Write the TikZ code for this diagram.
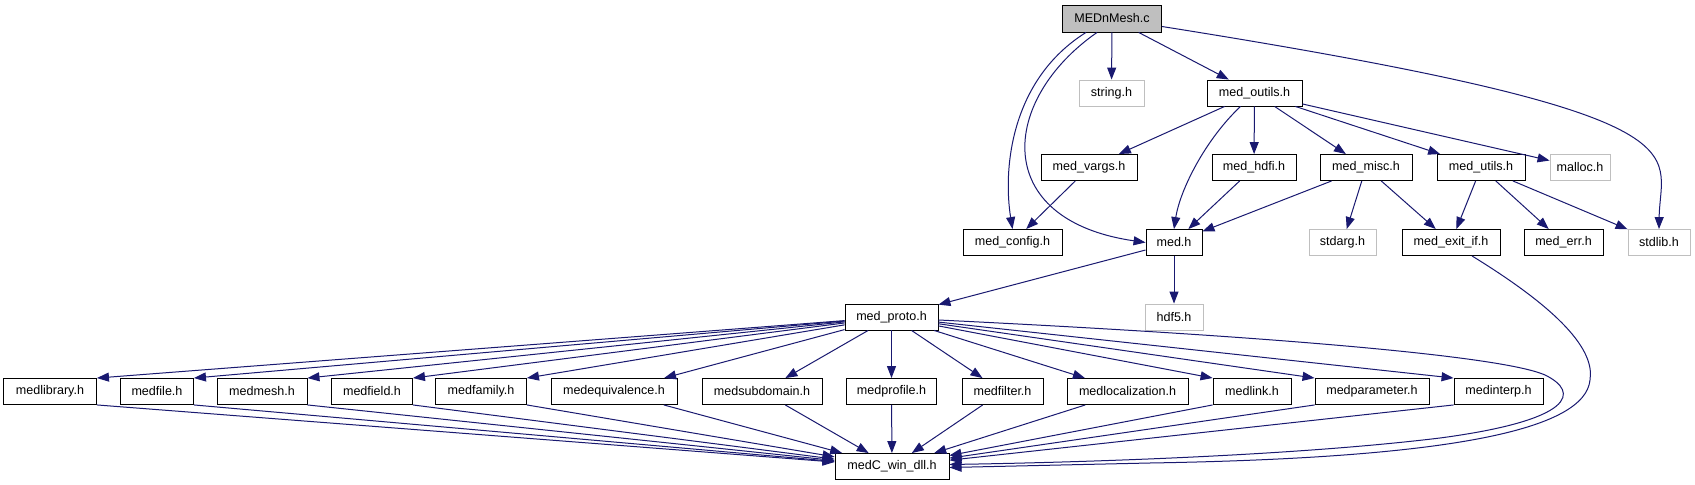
\documentclass[tikz,border=0pt]{standalone}
\usepackage{fontspec}
\setmainfont{Liberation Sans}
\usetikzlibrary{arrows.meta,calc}
\definecolor{edgec}{HTML}{191970}
\definecolor{greyc}{HTML}{BFBFBF}
\tikzset{
  box/.style={draw=black, line width=0.9bp, minimum height=26bp, inner sep=0pt, font=\fontsize{12.6}{15}\selectfont, fill=white},
  sysbox/.style={box, draw=greyc},
  rootbox/.style={box, fill=greyc},
  edge/.style={draw=edgec, line width=1bp, -{Triangle[length=12bp,width=9bp]}}
}
\begin{document}
\begin{tikzpicture}[x=1bp, y=-1bp]
\path[fill=white, use as bounding box] (0,0) rectangle (1695,485);
% rank 0
\node[rootbox, minimum width=99bp, minimum height=27bp] (mesh) at (1112,18.5) {MEDnMesh.c};
% rank 1
\node[sysbox, minimum width=65bp] (string) at (1111.5,93) {string.h};
\node[box, minimum width=95bp] (outils) at (1254.5,93) {med\_outils.h};
% rank 2
\node[box, minimum width=96bp] (vargs) at (1089,167.5) {med\_vargs.h};
\node[box, minimum width=84bp] (hdfi) at (1254,167.5) {med\_hdfi.h};
\node[box, minimum width=92bp] (misc) at (1366,167.5) {med\_misc.h};
\node[box, minimum width=88bp] (utils) at (1481,167.5) {med\_utils.h};
\node[sysbox, minimum width=60bp] (malloc) at (1580,167.5) {malloc.h};
% rank 3
\node[box, minimum width=99bp] (config) at (1012.5,242.5) {med\_config.h};
\node[box, minimum width=56bp] (med) at (1174,242.5) {med.h};
\node[sysbox, minimum width=67bp] (stdarg) at (1342.5,242.5) {stdarg.h};
\node[box, minimum width=98bp] (exitif) at (1451,242.5) {med\_exit\_if.h};
\node[box, minimum width=79bp] (err) at (1563.5,242.5) {med\_err.h};
\node[sysbox, minimum width=62bp] (stdlib) at (1659,242.5) {stdlib.h};
% rank 4
\node[box, minimum width=93bp] (proto) at (891.5,317) {med\_proto.h};
\node[sysbox, minimum width=58bp] (hdf5) at (1174,317) {hdf5.h};
% rank 5
\node[box, minimum width=93bp] (library) at (50,391.5) {medlibrary.h};
\node[box, minimum width=73bp] (file) at (157,391.5) {medfile.h};
\node[box, minimum width=90bp] (mmesh) at (262,391.5) {medmesh.h};
\node[box, minimum width=81bp] (field) at (372,391.5) {medfield.h};
\node[box, minimum width=91bp] (family) at (481,391.5) {medfamily.h};
\node[box, minimum width=126bp] (equiv) at (614,391.5) {medequivalence.h};
\node[box, minimum width=120bp] (subdomain) at (762,391.5) {medsubdomain.h};
\node[box, minimum width=90bp] (profile) at (891.5,391.5) {medprofile.h};
\node[box, minimum width=81bp] (filter) at (1002.5,391.5) {medfilter.h};
\node[box, minimum width=121bp] (localization) at (1127.5,391.5) {medlocalization.h};
\node[box, minimum width=78bp] (link) at (1252,391.5) {medlink.h};
\node[box, minimum width=114bp] (parameter) at (1372,391.5) {medparameter.h};
\node[box, minimum width=89bp] (interp) at (1498.5,391.5) {medinterp.h};
% rank 6
\node[box, minimum width=114bp] (dll) at (892,466.5) {medC\_win\_dll.h};

% edges from MEDnMesh.c
\draw[edge] ([xshift=-26bp]mesh.south) .. controls (1010,80) and (1003,170) .. (config.north);
\draw[edge] ([xshift=-15bp]mesh.south) .. controls (1000,100) and (990,220) .. (med.west);
\draw[edge] (mesh) -- (string);
\draw[edge] (mesh) -- (outils);
\draw[edge] ([yshift=-8bp]mesh.east) .. controls (1720,115) and (1660,150) .. (stdlib.north);
% edges from med_outils.h
\draw[edge] (outils) -- (vargs);
\draw[edge] ([xshift=-14bp]outils.south) .. controls (1205,140) and (1180,190) .. (med.north);
\draw[edge] (outils) -- (hdfi);
\draw[edge] (outils) -- (misc);
\draw[edge] (outils) -- (utils);
\draw[edge] (outils) -- (malloc);
% rank 2 to rank 3
\draw[edge] (vargs) -- (config);
\draw[edge] (hdfi) -- (med);
\draw[edge] (misc) -- (med);
\draw[edge] (misc) -- (stdarg);
\draw[edge] (misc) -- (exitif);
\draw[edge] (utils) -- (exitif);
\draw[edge] (utils) -- (err);
\draw[edge] (utils) -- (stdlib);
% med.h
\draw[edge] (med) -- (proto);
\draw[edge] (med) -- (hdf5);
% med_proto.h to rank 5 and rank 5 to dll
\foreach \n in {library,file,mmesh,field,family} {
  \draw[edge] (proto) -- (\n.north east);
  \draw[edge] (\n.south east) -- (dll);
}
\foreach \n in {equiv,subdomain,profile,filter,localization} {
  \draw[edge] (proto) -- (\n);
  \draw[edge] (\n) -- (dll);
}
\foreach \n in {link,parameter,interp} {
  \draw[edge] (proto) -- (\n.north west);
  \draw[edge] (\n.south west) -- (dll);
}
% long curves to dll
\draw[edge] ([yshift=-3bp]proto.east) .. controls (1250,335) and (1500,355) .. (1545,375)
  .. controls (1580,392) and (1575,420) .. (1440,438)
  .. controls (1300,455) and (1100,462) .. ([yshift=2bp]dll.east);
\draw[edge] ([xshift=21bp]exitif.south) .. controls (1560,310) and (1595,350) .. (1590,380)
  .. controls (1585,430) and (1450,458) .. (1150,463) -- ([yshift=-1bp]dll.east);
\end{tikzpicture}
\end{document}
